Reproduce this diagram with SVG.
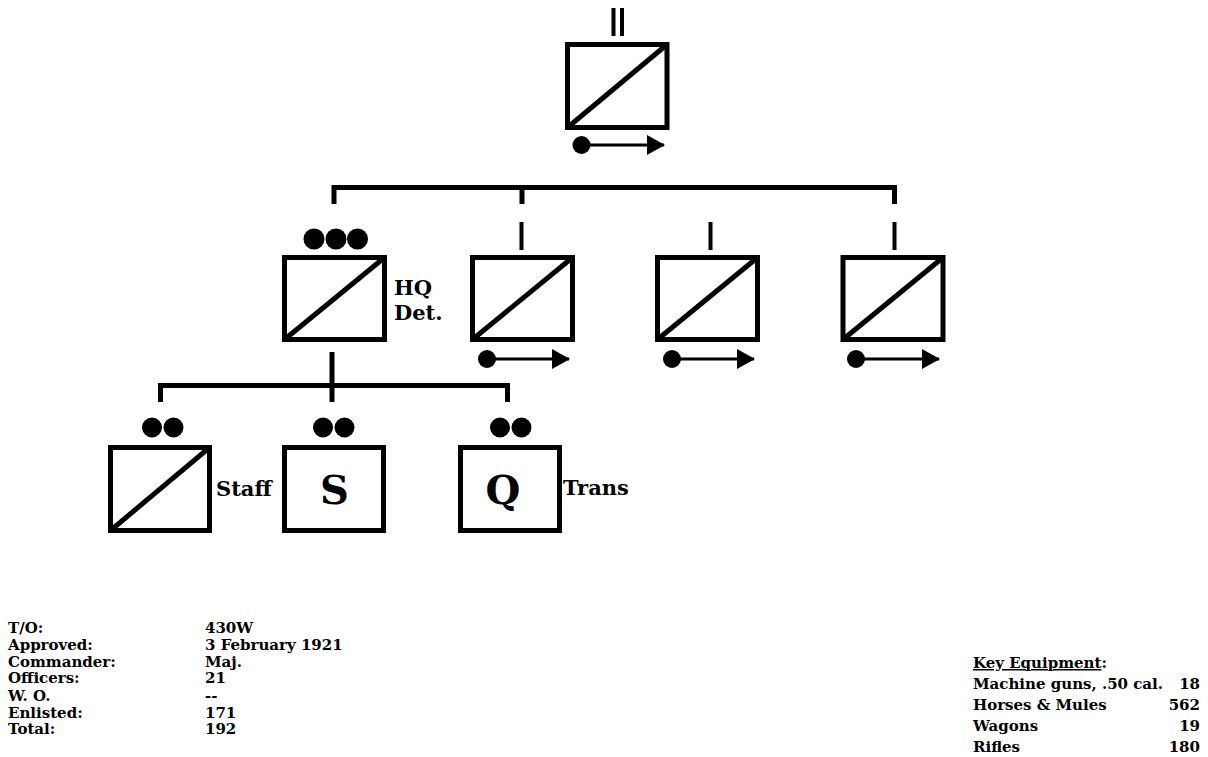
<svg xmlns="http://www.w3.org/2000/svg" width="1208" height="757" viewBox="0 0 1208 757">
<style>
.box{fill:#fff;stroke:#000;stroke-width:5}
.diag{stroke:#000;stroke-width:5}
.conn{fill:none;stroke:#000;stroke-width:5;stroke-linejoin:miter}
.tick{stroke:#000;stroke-width:4}
.mv{stroke:#000;stroke-width:3}
.lbl{font-family:"DejaVu Serif",serif;font-weight:bold;font-size:21px;fill:#000}
.big{font-family:"DejaVu Serif",serif;font-weight:bold;font-size:40px;fill:#000}
.tbl{font-family:"DejaVu Serif",serif;font-weight:bold;font-size:15px;fill:#000}
</style>
<defs>
<marker id="ah" markerWidth="18" markerHeight="20" refX="17" refY="10" orient="auto" markerUnits="userSpaceOnUse">
<path d="M0,0 L18,10 L0,20 Z" fill="#000"/>
</marker>
</defs>
<rect width="1208" height="757" fill="#fff"/>

<g id="connectors">
<path class="conn" d="M334,204 V187.5 H894.5 V204"/>
<path class="conn" d="M522,187.5 V204"/>
<path class="conn" d="M332,352 V402"/>
<path class="conn" d="M160.5,402 V385.5 H507.5 V402"/>
</g>

<g id="battalion">
<line class="tick" x1="613.5" y1="8" x2="613.5" y2="36"/>
<line class="tick" x1="622" y1="8" x2="622" y2="36"/>
<rect class="box" x="567.5" y="44.5" width="99.5" height="83"/>
<line class="diag" x1="567.5" y1="127.5" x2="667" y2="44.5"/>
<circle cx="581.5" cy="145" r="9"/>
<line class="mv" x1="581.5" y1="145" x2="664" y2="145" marker-end="url(#ah)"/>
</g>

<g id="hq-det">
<circle cx="314" cy="239" r="10.5"/>
<circle cx="336" cy="239" r="10.5"/>
<circle cx="357.5" cy="239" r="10.5"/>
<rect class="box" x="284.5" y="257.5" width="100" height="82"/>
<line class="diag" x1="284.5" y1="339.5" x2="384.5" y2="257.5"/>
<text class="lbl" x="394" y="295">HQ</text>
<text class="lbl" x="394" y="320">Det.</text>
</g>

<g id="troop-1">
<line class="tick" x1="521.5" y1="222" x2="521.5" y2="250"/>
<rect class="box" x="472.5" y="257.5" width="100" height="82"/>
<line class="diag" x1="472.5" y1="339.5" x2="572.5" y2="257.5"/>
<circle cx="487" cy="359" r="9"/>
<line class="mv" x1="487" y1="359" x2="569" y2="359" marker-end="url(#ah)"/>
</g>

<g id="troop-2">
<line class="tick" x1="710.5" y1="222" x2="710.5" y2="250"/>
<rect class="box" x="657.5" y="257.5" width="100" height="82"/>
<line class="diag" x1="657.5" y1="339.5" x2="757.5" y2="257.5"/>
<circle cx="672" cy="359" r="9"/>
<line class="mv" x1="672" y1="359" x2="754" y2="359" marker-end="url(#ah)"/>
</g>

<g id="troop-3">
<line class="tick" x1="894.5" y1="222" x2="894.5" y2="250"/>
<rect class="box" x="843" y="257.5" width="100" height="82"/>
<line class="diag" x1="843" y1="339.5" x2="943" y2="257.5"/>
<circle cx="856" cy="359" r="9"/>
<line class="mv" x1="856" y1="359" x2="939" y2="359" marker-end="url(#ah)"/>
</g>

<g id="staff">
<circle cx="152" cy="427.5" r="10"/>
<circle cx="173.5" cy="427.5" r="10"/>
<rect class="box" x="110.5" y="447.5" width="99" height="83"/>
<line class="diag" x1="110.5" y1="530.5" x2="209.5" y2="447.5"/>
<text class="lbl" x="216" y="496">Staff</text>
</g>

<g id="signal">
<circle cx="323" cy="427.5" r="10"/>
<circle cx="344.5" cy="427.5" r="10"/>
<rect class="box" x="284.5" y="447.5" width="99" height="83"/>
<text class="big" x="334.5" y="504" text-anchor="middle">S</text>
</g>

<g id="trans">
<circle cx="500" cy="427.5" r="10"/>
<circle cx="521.5" cy="427.5" r="10"/>
<rect class="box" x="460.5" y="447.5" width="99" height="83"/>
<text class="big" x="503" y="504" text-anchor="middle">Q</text>
<text class="lbl" x="563" y="495">Trans</text>
</g>

<g id="table">
<text class="tbl" x="8" y="633">T/O:</text>
<text class="tbl" x="205" y="633">430W</text>
<text class="tbl" x="8" y="650">Approved:</text>
<text class="tbl" x="205" y="650">3 February 1921</text>
<text class="tbl" x="8" y="667">Commander:</text>
<text class="tbl" x="205" y="667">Maj.</text>
<text class="tbl" x="8" y="683">Officers:</text>
<text class="tbl" x="205" y="683">21</text>
<text class="tbl" x="8" y="701">W. O.</text>
<text class="tbl" x="205" y="701">--</text>
<text class="tbl" x="8" y="718">Enlisted:</text>
<text class="tbl" x="205" y="718">171</text>
<text class="tbl" x="8" y="734">Total:</text>
<text class="tbl" x="205" y="734">192</text>
</g>

<g id="equipment">
<text class="tbl" x="973" y="668"><tspan text-decoration="underline">Key Equipment</tspan>:</text>
<text class="tbl" x="973" y="689">Machine guns, .50 cal.</text>
<text class="tbl" x="1200" y="689" text-anchor="end">18</text>
<text class="tbl" x="973" y="710">Horses &amp; Mules</text>
<text class="tbl" x="1200" y="710" text-anchor="end">562</text>
<text class="tbl" x="973" y="731">Wagons</text>
<text class="tbl" x="1200" y="731" text-anchor="end">19</text>
<text class="tbl" x="973" y="752">Rifles</text>
<text class="tbl" x="1200" y="752" text-anchor="end">180</text>
</g>
</svg>
